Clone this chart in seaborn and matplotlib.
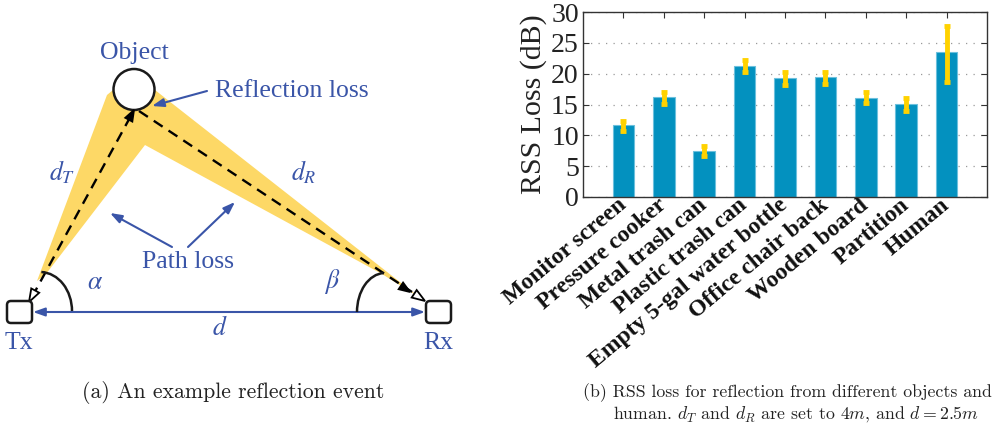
import matplotlib
matplotlib.use("Agg")
import matplotlib.pyplot as plt
from matplotlib.patches import Polygon, Circle, FancyBboxPatch, Arc
import numpy as np
import pandas as pd
import seaborn as sns

# ---------------- data ----------------
objects = ["Monitor screen", "Pressure cooker", "Metal trash can", "Plastic trash can",
           "Empty 5-gal water bottle", "Office chair back", "Wooden board", "Partition", "Human"]
rss_loss = [11.6, 16.2, 7.4, 21.3, 19.3, 19.4, 16.1, 15.1, 23.5]
err_low = [0.9, 1.1, 0.8, 1.1, 1.1, 1.1, 0.9, 1.1, 4.8]
err_high = [0.8, 0.8, 0.9, 0.9, 0.9, 0.8, 0.9, 0.9, 4.2]
yticks = [0, 5, 10, 15, 20, 25, 30]

BLUE_TXT = "#3a55a8"
BAR = "#0391BF"
ERR = "#FFD200"
YEL = "#FDD866"
SERIF = "Liberation Serif"

plt.rcParams["font.family"] = [SERIF, "DejaVu Serif"]

fig = plt.figure(figsize=(9.92, 4.33), dpi=100)

# ---------------- left: diagram (pixel coordinates) ----------------
bg = fig.add_axes([0, 0, 1, 1])
bg.set_xlim(0, 992)
bg.set_ylim(433, 0)
bg.axis("off")

beam = [(37, 281), (107, 95), (125, 80), (155, 90), (419, 297),
        (382, 274), (145, 145), (46, 274)]
bg.add_patch(Polygon(beam, closed=True, fc=YEL, ec="none", zorder=1))

bg.add_patch(Circle((134, 89.5), 20.5, fc="white", ec="#1a1a1a", lw=1.8, zorder=4))

# dashed paths
bg.plot([32, 133], [297, 112], ls=(0, (4.5, 3)), color="black", lw=1.7, zorder=3)
bg.plot([139, 412], [111, 292], ls=(0, (4.5, 3)), color="black", lw=1.7, zorder=3)


def head(tip, frm, L, W, filled):
    tip = np.array(tip, float)
    frm = np.array(frm, float)
    u = (tip - frm) / np.linalg.norm(tip - frm)
    n = np.array([-u[1], u[0]])
    base = tip - u * L
    pts = [tip, base + n * W / 2, base - n * W / 2]
    bg.add_patch(Polygon(pts, closed=True, fc="black" if filled else "white",
                         ec="black", lw=1.3, zorder=5))


head((134, 110), (32, 300), 11, 8, True)
head((29, 302), (134, 110), 13, 9, False)
head((410, 292), (138, 110), 11, 8, True)
head((425, 301), (138, 110), 13, 9, False)

# Tx / Rx boxes
for x0 in (7, 426):
    bg.add_patch(FancyBboxPatch((x0, 301), 25, 22, boxstyle="round,pad=0,rounding_size=4",
                                fc="white", ec="#1a1a1a", lw=1.8, zorder=5))

# angle arcs
bg.add_patch(Arc((40, 311), 64, 78, theta1=272, theta2=360, color="#1a1a1a", lw=1.8, zorder=4))
bg.add_patch(Arc((385, 312), 56, 78, theta1=180, theta2=268, color="#1a1a1a", lw=1.8, zorder=4))

# distance line d
bg.annotate("", xy=(33, 312), xytext=(425, 312),
            arrowprops=dict(arrowstyle="<|-|>,head_length=0.7,head_width=0.25",
                            color=BLUE_TXT, lw=1.5, shrinkA=0, shrinkB=0), zorder=3)

# blue arrows
arr = dict(arrowstyle="-|>,head_length=0.7,head_width=0.25", color=BLUE_TXT, lw=1.5,
           shrinkA=0, shrinkB=0)
bg.annotate("", xy=(152, 106), xytext=(207, 91), arrowprops=arr, zorder=6)
bg.annotate("", xy=(110, 213), xytext=(172, 247), arrowprops=arr, zorder=6)
bg.annotate("", xy=(235, 202), xytext=(188, 247), arrowprops=arr, zorder=6)

tk = dict(color=BLUE_TXT, ha="center", va="center", fontsize=18.5, family=SERIF, zorder=7)
bg.text(134, 53, "Object", **tk)
bg.text(292, 91, "Reflection loss", **tk)
bg.text(188, 262, "Path loss", **tk)
bg.text(19, 343, "Tx", **tk)
bg.text(438, 343, "Rx", **tk)
bg.text(62, 172, r"$d_T$", math_fontfamily="stix", **tk)
bg.text(304, 172, r"$d_R$", math_fontfamily="stix", **tk)
bg.text(95, 283, r"$\alpha$", math_fontfamily="stix", **tk)
bg.text(332, 281, r"$\beta$", math_fontfamily="stix", **tk)
bg.text(220, 328, r"$d$", math_fontfamily="stix", **tk)

# captions
cap = dict(va="center", family="cmr10", color="#222222")
bg.text(233, 393, "(a) An example reflection event", ha="center", fontsize=15.7, **cap)
bg.text(583, 393, "(b) RSS loss for reflection from different objects and",
        ha="left", fontsize=12.8, **cap)
bg.text(796.5, 414, r"human. $d_T$ and $d_R$ are set to $4m$, and $d = 2.5m$",
        ha="center", fontsize=12.8, math_fontfamily="cm", **cap)

# ---------------- right: bar chart ----------------
ax = fig.add_axes([583 / 992, (433 - 197) / 433, 404 / 992, 185 / 433])
df = pd.DataFrame({"object": objects, "loss": rss_loss})
sns.barplot(data=df, x="object", y="loss", color=BAR, saturation=1, width=0.53,
            edgecolor="#6cc0dd", linewidth=0.8, errorbar=None, ax=ax, zorder=2)
ax.errorbar(np.arange(len(objects)), rss_loss, yerr=[err_low, err_high], fmt="none",
            ecolor=ERR, elinewidth=3.5, capsize=2.5, capthick=3.5, zorder=3)

ax.set_xlim(-1, len(objects))
ax.set_ylim(0, 30)
ax.set_yticks(yticks)
ax.set_yticklabels([str(v) for v in yticks], fontsize=20, family=SERIF, color="#222222")
ax.set_xticks(np.arange(len(objects)))
ax.set_xticklabels(objects, rotation=40, ha="right", va="center", rotation_mode="anchor",
                   fontsize=17, fontweight="bold", family=SERIF, color="#111111")
ax.set_xlabel("")
ax.set_ylabel("RSS Loss (dB)", fontsize=21.5, family=SERIF, color="#222222", labelpad=3)
ax.tick_params(axis="both", direction="in", top=True, right=True, length=4, width=0.8,
               color="#333333")
ax.tick_params(axis="x", pad=4)
ax.tick_params(axis="y", pad=3)
ax.grid(axis="y", linestyle=(0, (1, 5)), color="#999999", lw=0.9)
ax.set_axisbelow(True)
for s in ax.spines.values():
    s.set_color("#333333")
    s.set_linewidth(1.0)

fig.savefig("out.png", dpi=100)
